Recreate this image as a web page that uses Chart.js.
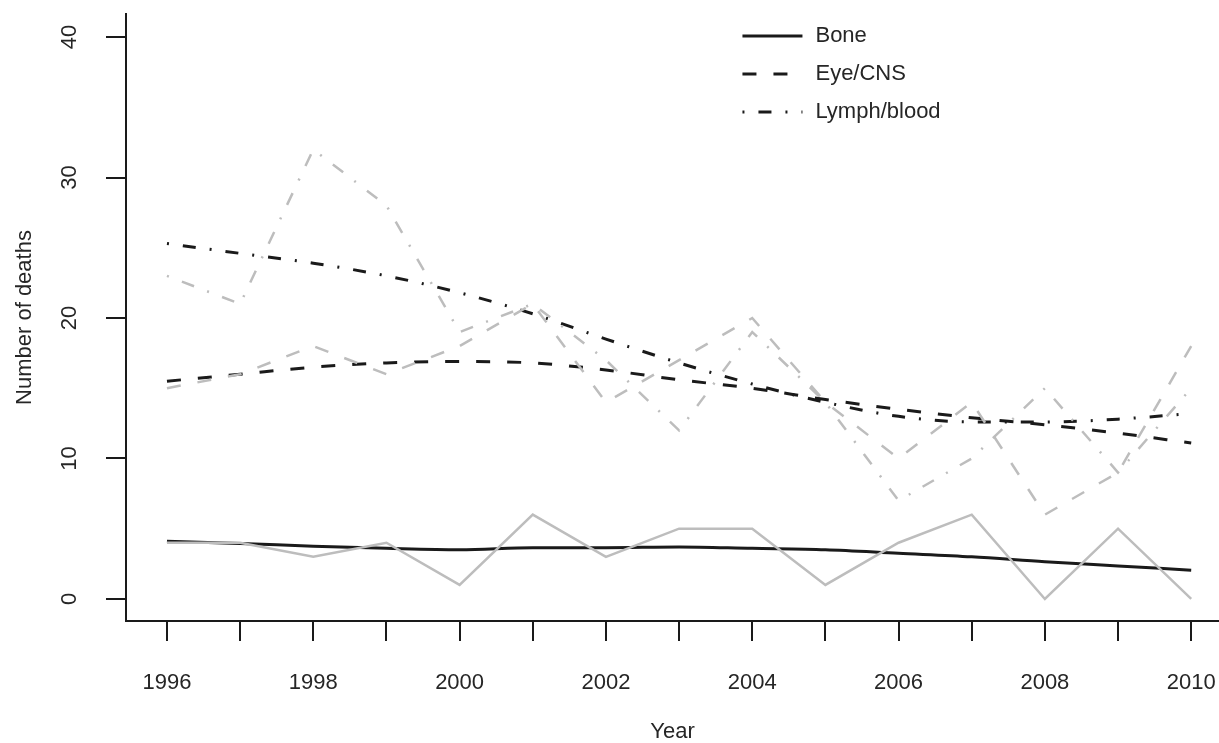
<!DOCTYPE html>
<html>
<head>
<meta charset="utf-8">
<script src="https://cdn.jsdelivr.net/npm/chart.js@4.4.1/dist/chart.umd.min.js"></script>
<style>
html, body { margin: 0; padding: 0; background: #fff; }
canvas { display: block; }
</style>
</head>
<body>
<canvas id="chart" width="1219" height="743"></canvas>
<script>
const years = [1996, 1997, 1998, 1999, 2000, 2001, 2002, 2003, 2004, 2005, 2006, 2007, 2008, 2009, 2010];
const xTickLabels = [1996, 1998, 2000, 2002, 2004, 2006, 2008, 2010];
const yTicks = [0, 10, 20, 30, 40];

// observed counts (grey)
const boneObserved = [4, 4, 3, 4, 1, 6, 3, 5, 5, 1, 4, 6, 0, 5, 0];
const eyeObserved = [15, 16, 18, 16, 18, 21, 14, 17, 20, 14, 10, 14, 6, 9, 18];
const lymphObserved = [23, 21, 32, 28, 19, 21, 17, 12, 19, 14, 7, 10, 15, 9, 15];

// smoothed trend (black)
const boneSmooth = [4.1, 3.95, 3.75, 3.6, 3.5, 3.65, 3.65, 3.7, 3.6, 3.5, 3.25, 3.0, 2.65, 2.35, 2.05];
const eyeSmooth = [15.5, 16.0, 16.5, 16.8, 16.9, 16.8, 16.3, 15.6, 15.0, 14.2, 13.5, 12.9, 12.4, 11.8, 11.1];
const lymphSmooth = [25.3, 24.6, 23.9, 23.0, 21.8, 20.3, 18.5, 16.8, 15.3, 14.0, 13.0, 12.6, 12.6, 12.8, 13.2];

const seriesNames = ["Bone", "Eye/CNS", "Lymph/blood"];

const FONT = "'Liberation Sans', Arial, Helvetica, sans-serif";
const FONT_SIZE = 22;
const TEXT = "#262626";
const BLACK = "#1a1a1a";
const GREY = "#bdbdbd";
const DASHED = [14, 17];
const DOTDASH = [2, 14, 13, 14];

const toPoints = (arr) => years.map((yr, i) => ({ x: yr, y: arr[i] }));

const greyLine = (arr, dash) => ({
    data: toPoints(arr),
    borderColor: GREY,
    borderWidth: 2.5,
    borderDash: dash,
    borderCapStyle: 'butt',
    pointRadius: 0,
    tension: 0,
    fill: false
});

const blackLine = (label, arr, dash) => ({
    label: label,
    data: toPoints(arr),
    borderColor: BLACK,
    borderWidth: 3,
    borderDash: dash,
    borderCapStyle: 'butt',
    pointRadius: 0,
    tension: 0.4,
    cubicInterpolationMode: 'monotone',
    fill: false
});

// legend with line samples, top right of the plot
const lineLegend = {
    id: 'lineLegend',
    afterDraw(chart) {
        const ctx = chart.ctx;
        const area = chart.chartArea;
        const items = chart.data.datasets.filter(d => d.label);
        const x0 = area.left + (area.right - area.left) * 0.564;
        ctx.save();
        items.forEach((d, i) => {
            const y = area.top + 22 + i * 38;
            ctx.strokeStyle = d.borderColor;
            ctx.lineWidth = d.borderWidth;
            ctx.lineCap = 'butt';
            ctx.setLineDash(d.borderDash || []);
            ctx.beginPath();
            ctx.moveTo(x0, y);
            ctx.lineTo(x0 + 60, y);
            ctx.stroke();
            ctx.setLineDash([]);
            ctx.fillStyle = TEXT;
            ctx.font = FONT_SIZE + "px " + FONT;
            ctx.textAlign = 'left';
            ctx.textBaseline = 'middle';
            ctx.fillText(d.label, x0 + 73, y);
        });
        ctx.restore();
    }
};

// rotated y tick labels and axis titles
const axisText = {
    id: 'axisText',
    afterDraw(chart) {
        const ctx = chart.ctx;
        const area = chart.chartArea;
        const yScale = chart.scales.y;
        ctx.save();
        ctx.fillStyle = TEXT;
        ctx.font = FONT_SIZE + "px " + FONT;
        ctx.textAlign = 'center';
        ctx.textBaseline = 'middle';
        yTicks.forEach(v => {
            ctx.save();
            ctx.translate(area.left - 56, yScale.getPixelForValue(v));
            ctx.rotate(-Math.PI / 2);
            ctx.fillText(String(v), 0, 0);
            ctx.restore();
        });
        ctx.save();
        ctx.translate(area.left - 101, (area.top + area.bottom) / 2);
        ctx.rotate(-Math.PI / 2);
        ctx.fillText("Number of deaths", 0, 0);
        ctx.restore();
        ctx.fillText("Year", (area.left + area.right) / 2, area.bottom + 111);
        ctx.restore();
    }
};

new Chart(document.getElementById('chart'), {
    type: 'line',
    data: {
        datasets: [
            greyLine(boneObserved, []),
            greyLine(eyeObserved, DASHED),
            greyLine(lymphObserved, DOTDASH),
            blackLine(seriesNames[0], boneSmooth, []),
            blackLine(seriesNames[1], eyeSmooth, DASHED),
            blackLine(seriesNames[2], lymphSmooth, DOTDASH)
        ]
    },
    options: {
        responsive: false,
        animation: false,
        devicePixelRatio: 1,
        layout: { padding: { top: 14, right: 0, left: 0, bottom: 0 } },
        plugins: {
            legend: { display: false },
            tooltip: { enabled: false }
        },
        scales: {
            x: {
                type: 'linear',
                min: 1995.44,
                max: 2010.38,
                afterBuildTicks: s => { s.ticks = years.map(v => ({ value: v })); },
                afterFit: s => { s.height = 122; s.paddingLeft = 0; s.paddingRight = 0; },
                grid: { drawOnChartArea: false, drawTicks: true, tickLength: 20, color: BLACK, lineWidth: 2 },
                border: { display: true, color: BLACK, width: 2 },
                ticks: {
                    autoSkip: false,
                    maxRotation: 0,
                    padding: 29,
                    color: TEXT,
                    font: { family: FONT, size: FONT_SIZE },
                    callback: v => xTickLabels.includes(v) ? String(v) : ''
                }
            },
            y: {
                type: 'linear',
                min: -1.57,
                max: 41.64,
                afterBuildTicks: s => { s.ticks = yTicks.map(v => ({ value: v })); },
                afterFit: s => { s.width = 126; },
                grid: { drawOnChartArea: false, drawTicks: true, tickLength: 20, color: BLACK, lineWidth: 2 },
                border: { display: true, color: BLACK, width: 2 },
                ticks: { display: false }
            }
        }
    },
    plugins: [lineLegend, axisText]
});
</script>
</body>
</html>
